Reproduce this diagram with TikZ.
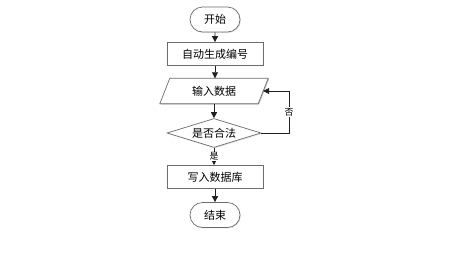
\documentclass[tikz,border=0pt]{standalone}
\usepackage{fontspec}
\setmainfont{Noto Sans CJK SC}
\usetikzlibrary{shapes.geometric,shapes.misc,arrows.meta,shadows}
\begin{document}
\begin{tikzpicture}[x=1pt,y=-1pt,
  base/.style={draw=gray!85!black, line width=0.7pt, fill=white, inner sep=0pt,
    font=\fontsize{11}{13}\selectfont,
    drop shadow={shadow xshift=0.9pt, shadow yshift=-0.9pt, fill=gray!45}},
  term/.style={base, rounded rectangle, minimum width=50pt, minimum height=25pt},
  proc/.style={base, rectangle, minimum width=96pt, minimum height=23pt},
  dec/.style={base, diamond, aspect=3.2, minimum width=94pt, minimum height=29pt},
  io/.style={rectangle, inner sep=0pt, minimum width=98pt, minimum height=25pt,
    font=\fontsize{11}{13}\selectfont},
  flow/.style={draw=gray!25!black, line width=0.7pt,
    -{Triangle[length=6pt,width=6pt]}},
  lab/.style={fill=white, inner sep=1pt, font=\fontsize{9}{10}\selectfont}
]
\useasboundingbox[fill=white] (0,0) rectangle (452,255);

\node[term] (start) at (215,19.5) {开始};
\node[proc] (gen) at (215,54) {自动生成编号};

% parallelogram (input)
\node[io] (input) at (214,91) {};
\fill[gray!45] ([xshift=5.9pt,yshift=-0.9pt]input.north west) -- ([xshift=5.9pt,yshift=-0.9pt]input.north east)
  -- ([xshift=-4.1pt,yshift=-0.9pt]input.south east) -- ([xshift=-4.1pt,yshift=-0.9pt]input.south west) -- cycle;
\draw[draw=gray!85!black, line width=0.7pt, fill=white]
  ([xshift=5pt]input.north west) -- ([xshift=5pt]input.north east)
  -- ([xshift=-5pt]input.south east) -- ([xshift=-5pt]input.south west) -- cycle;
\node[io] at (input.center) {输入数据};

\node[dec] (dec) at (214,133) {是否合法};
\node[proc] (wr) at (215,177) {写入数据库};
\node[term] (end) at (215,215) {结束};

\coordinate (fb) at (289,112);

\draw[flow] (start) -- (gen);
\draw[flow] (gen) -- (gen |- input.north);
\draw[flow] (input.south -| dec.north) -- (dec.north);
\draw[flow] (dec.south) -- node[lab]{是} (dec.south |- wr.north);
\draw[flow] (wr.south -| end.north) -- (end.north);
\draw[flow] (dec.east) -- (dec.east -| fb) -- node[lab]{否} (input.east -| fb) -- (input.east);
\end{tikzpicture}
\end{document}
